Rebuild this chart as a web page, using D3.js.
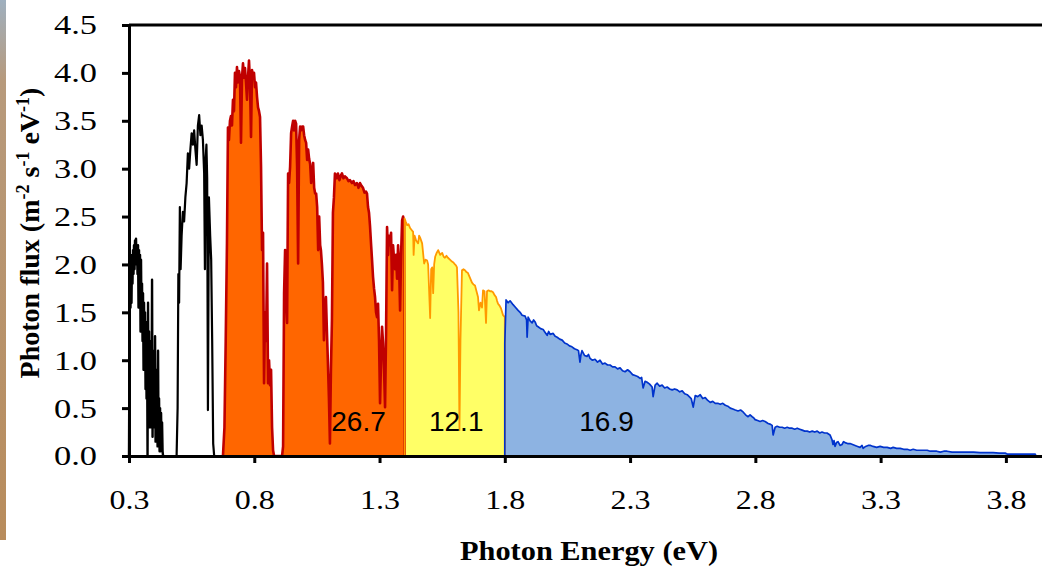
<!DOCTYPE html>
<html lang="en">
<head>
<meta charset="UTF-8">
<title>photon flux</title>
<script src="https://cdn.jsdelivr.net/npm/d3@7"></script>
<style>
  body{margin:0;background:#fff;overflow:hidden;}
  .axis .tick text{font-family:"Liberation Serif","Times New Roman",serif;font-size:28px;fill:#000;}
  .axis path,.axis line{stroke:#000;stroke-width:3px;}
  .ttl{font-family:"Liberation Serif","Times New Roman",serif;font-weight:bold;font-size:28px;fill:#000;}
  .band{font-family:"Liberation Sans",Arial,sans-serif;font-size:28px;fill:#000;}
</style>
</head>
<body>
<div id="chart"></div>
<script>
// values: [photon energy eV, photon flux]
var blackBand1 = [[0.300,0],[0.302,1.2],[0.304,1.95],[0.306,1.55],[0.308,2.0],[0.310,1.6],[0.312,2.1],[0.314,1.8],[0.316,2.15],[0.318,1.9],[0.320,2.2],[0.322,1.95],[0.324,2.25],[0.326,2.0],[0.328,2.27],[0.330,2.05],[0.332,2.2],[0.334,1.9],[0.336,2.2],[0.338,1.55],[0.340,2.15],[0.342,1.7],[0.344,2.1],[0.346,1.3],[0.348,2.05],[0.350,1.4],[0.352,1.8],[0.354,1.2],[0.356,1.7],[0.358,0.9],[0.360,1.6],[0.362,1.0],[0.364,1.5],[0.366,0.7],[0.368,1.4],[0.370,0.6],[0.372,1.3],[0.374,0.0],[0.376,1.6],[0.378,0.4],[0.380,1.3],[0.382,0.3],[0.384,1.2],[0.386,0.3],[0.388,1.0],[0.390,0.5],[0.392,1.84],[0.394,0.2],[0.396,1.0],[0.398,0.4],[0.400,1.1],[0.402,0.3],[0.404,1.25],[0.406,0.15],[0.408,0.9],[0.410,0.2],[0.412,0.8],[0.414,0.1],[0.416,1.1],[0.418,0.1],[0.420,0.6],[0.422,0.05],[0.424,0.5],[0.426,0.05],[0.428,0.45],[0.430,0.1],[0.432,0.35],[0.434,0.05],[0.436,0]];

var blackBand2 = [[0.490,0],[0.494,0.5],[0.497,1.9],[0.500,1.6],[0.503,2.6],[0.506,1.95],[0.510,2.3],[0.515,2.55],[0.520,2.45],[0.525,2.7],[0.530,2.85],[0.535,3.16],[0.540,3.0],[0.545,3.2],[0.550,3.37],[0.555,3.25],[0.560,3.4],[0.565,3.2],[0.570,3.04],[0.575,3.45],[0.580,3.56],[0.585,3.35],[0.590,3.45],[0.595,3.3],[0.600,2.95],[0.603,1.95],[0.606,3.1],[0.609,3.25],[0.612,2.9],[0.615,0.48],[0.619,2.7],[0.624,2.3],[0.628,2.05],[0.632,1.2],[0.636,0.13],[0.640,0]];

var orangeBand = [[0.675,0],[0.681,0.3],[0.686,1.2],[0.691,2.22],[0.695,3.43],[0.699,3.3],[0.703,3.5],[0.707,3.55],[0.711,3.45],[0.715,3.72],[0.719,3.6],[0.723,4.0],[0.727,3.85],[0.731,4.06],[0.735,3.9],[0.739,4.02],[0.743,3.96],[0.747,3.27],[0.751,3.95],[0.755,4.1],[0.759,3.95],[0.763,4.05],[0.767,3.9],[0.771,3.72],[0.775,3.95],[0.779,4.13],[0.783,3.9],[0.787,3.33],[0.791,4.03],[0.795,3.95],[0.799,4.0],[0.803,3.85],[0.807,3.9],[0.811,3.75],[0.815,3.64],[0.819,3.6],[0.823,3.54],[0.827,3.02],[0.831,2.15],[0.835,2.33],[0.839,0.76],[0.843,1.5],[0.847,1.2],[0.851,2.01],[0.855,0.76],[0.859,1.0],[0.863,0.74],[0.867,0.9],[0.871,0.3],[0.875,0.06],[0.879,0],
  [0.911,0],[0.915,0.1],[0.919,1.70],[0.923,2.15],[0.927,1.6],[0.931,1.39],[0.935,2.95],[0.939,2.85],[0.943,3.02],[0.947,3.37],[0.951,3.44],[0.955,3.5],[0.959,3.4],[0.963,3.5],[0.967,3.47],[0.971,3.02],[0.975,2.01],[0.979,3.3],[0.983,3.44],[0.987,3.4],[0.991,3.44],[0.995,3.44],[0.999,3.35],[1.003,3.3],[1.007,3.27],[1.011,3.09],[1.015,3.2],[1.019,3.1],[1.023,3.05],[1.027,2.85],[1.031,2.95],[1.035,3.06],[1.039,2.8],[1.043,2.74],[1.047,2.74],[1.051,2.6],[1.055,2.15],[1.059,2.5],[1.063,2.2],[1.066,2.15],[1.070,2.0],[1.074,1.81],[1.078,1.21],[1.082,1.5],[1.086,1.66],[1.090,1.3],[1.094,0.97],[1.098,0.6],[1.102,0.13],[1.106,0.9],[1.110,1.42],
  [1.114,2.54],[1.118,2.7],[1.122,2.95],[1.126,2.93],[1.130,2.9],[1.134,2.95],[1.140,2.88],[1.146,2.93],[1.150,2.95],[1.156,2.9],[1.162,2.92],[1.170,2.9],[1.176,2.87],[1.182,2.88],[1.190,2.85],[1.196,2.87],[1.202,2.83],[1.210,2.85],[1.216,2.8],[1.222,2.85],[1.228,2.82],[1.234,2.8],[1.240,2.75],[1.246,2.76],[1.250,2.74],[1.254,2.6],[1.258,2.54],[1.262,2.4],[1.266,2.22],[1.270,2.05],[1.274,1.87],[1.278,1.75],[1.282,1.66],[1.286,1.5],[1.290,1.45],[1.294,1.59],[1.298,1.2],[1.302,0.55],[1.306,1.0],[1.310,1.35],[1.314,1.18],[1.318,0.9],[1.322,0.51],[1.326,1.28],
  [1.330,2.39],[1.334,2.1],[1.338,2.3],[1.342,2.2],[1.346,2.33],[1.350,1.73],[1.354,2.2],[1.358,2.05],[1.362,1.95],[1.366,2.1],[1.370,1.85],[1.374,2.2],[1.378,2.0],[1.382,1.52],[1.386,2.1],[1.390,2.46],[1.394,2.5],[1.398,2.45],[1.400,0]];

var yellowBand = [[1.400,0],[1.400,2.48],[1.404,2.45],[1.410,2.41],[1.416,2.42],[1.422,2.38],[1.428,2.36],[1.434,2.34],[1.436,2.10],[1.440,2.3],[1.446,2.25],[1.454,2.22],[1.458,2.3],[1.462,2.28],[1.470,2.22],[1.478,2.01],[1.484,2.05],[1.490,2.04],[1.494,2.0],[1.502,1.44],[1.506,1.95],[1.510,1.97],[1.514,1.70],[1.518,2.0],[1.522,2.08],[1.528,2.12],[1.534,2.15],[1.542,2.1],[1.550,2.12],[1.556,2.08],[1.561,2.07],[1.567,2.09],[1.573,2.07],[1.581,2.05],[1.589,2.03],[1.595,2.02],[1.601,2.0],[1.605,1.99],[1.609,1.97],[1.615,1.5],[1.619,0.27],[1.623,1.2],[1.629,1.94],[1.635,1.95],[1.641,1.94],[1.647,1.92],[1.653,1.91],[1.661,1.86],[1.669,1.81],[1.675,1.79],[1.681,1.78],[1.687,1.72],[1.693,1.66],[1.697,1.52],[1.703,1.6],[1.709,1.55],[1.713,1.73],[1.719,1.72],[1.725,1.39],[1.729,1.72],[1.735,1.73],[1.741,1.72],[1.747,1.72],[1.753,1.71],[1.759,1.68],[1.765,1.66],[1.769,1.62],[1.773,1.59],[1.779,1.57],[1.785,1.54],[1.793,1.47],[1.800,1.45],[1.800,0]];

var blueBand = [[1.800,0],[1.800,1.18],[1.805,1.63],[1.813,1.6],[1.821,1.62],[1.833,1.58],[1.843,1.55],[1.853,1.52],[1.861,1.5],[1.869,1.47],[1.881,1.46],[1.887,1.42],[1.889,1.24],[1.893,1.45],[1.901,1.41],[1.909,1.39],[1.915,1.42],[1.921,1.4],[1.927,1.36],[1.933,1.35],[1.943,1.33],[1.953,1.32],[1.961,1.29],[1.969,1.26],[1.975,1.3],[1.981,1.27],[1.993,1.28],[2.001,1.25],[2.009,1.24],[2.019,1.22],[2.029,1.21],[2.039,1.18],[2.048,1.17],[2.058,1.15],[2.068,1.14],[2.078,1.12],[2.088,1.11],[2.094,1.1],[2.100,0.98],[2.104,1.06],[2.108,1.1],[2.118,1.05],[2.128,1.04],[2.134,1.06],[2.140,1.02],[2.150,1.0],[2.160,1.01],[2.170,0.98],[2.180,1.0],[2.190,0.96],[2.200,0.97],[2.210,0.95],[2.220,0.95],[2.230,0.93],[2.240,0.93],[2.250,0.91],[2.260,0.92],[2.270,0.89],[2.280,0.88],[2.290,0.9],[2.300,0.88],[2.310,0.85],[2.320,0.84],[2.330,0.83],[2.340,0.81],[2.346,0.82],[2.352,0.71],[2.360,0.78],[2.368,0.77],[2.378,0.75],[2.388,0.72],[2.392,0.62],[2.400,0.74],[2.408,0.76],[2.418,0.73],[2.428,0.74],[2.438,0.71],[2.448,0.72],[2.458,0.7],[2.468,0.69],[2.478,0.7],[2.488,0.69],[2.498,0.67],[2.508,0.68],[2.518,0.65],[2.528,0.64],[2.536,0.62],[2.544,0.6],[2.552,0.51],[2.560,0.63],[2.570,0.62],[2.580,0.64],[2.590,0.6],[2.600,0.61],[2.610,0.58],[2.620,0.56],[2.630,0.57],[2.640,0.55],[2.650,0.55],[2.660,0.54],[2.670,0.55],[2.680,0.53],[2.690,0.52],[2.700,0.5],[2.710,0.49],[2.720,0.48],[2.731,0.47],[2.741,0.48],[2.751,0.46],[2.761,0.43],[2.771,0.41],[2.779,0.43],[2.787,0.41],[2.793,0.4],[2.799,0.38],[2.809,0.37],[2.819,0.36],[2.829,0.37],[2.839,0.36],[2.851,0.34],[2.861,0.33],[2.867,0.32],[2.871,0.22],[2.879,0.3],[2.887,0.31],[2.897,0.3],[2.907,0.3],[2.917,0.29],[2.927,0.3],[2.937,0.29],[2.947,0.29],[2.957,0.28],[2.967,0.29],[2.977,0.28],[2.987,0.27],[2.997,0.26],[3.007,0.26],[3.017,0.25],[3.027,0.26],[3.037,0.25],[3.047,0.26],[3.057,0.24],[3.066,0.25],[3.076,0.24],[3.086,0.24],[3.098,0.22],[3.106,0.17],[3.110,0.12],[3.114,0.16],[3.118,0.10],[3.124,0.14],[3.130,0.15],[3.138,0.11],[3.146,0.12],[3.152,0.15],[3.158,0.14],[3.168,0.13],[3.178,0.13],[3.188,0.12],[3.198,0.11],[3.208,0.1],[3.218,0.09],[3.226,0.11],[3.230,0.08],[3.240,0.1],[3.250,0.11],[3.260,0.11],[3.270,0.1],[3.284,0.09],[3.298,0.1],[3.312,0.09],[3.326,0.09],[3.340,0.08],[3.350,0.09],[3.364,0.08],[3.378,0.08],[3.392,0.07],[3.406,0.07],[3.418,0.06],[3.430,0.07],[3.444,0.06],[3.458,0.06],[3.472,0.06],[3.486,0.06],[3.498,0.05],[3.510,0.05],[3.524,0.05],[3.538,0.04],[3.552,0.05],[3.565,0.05],[3.585,0.04],[3.605,0.04],[3.625,0.04],[3.645,0.04],[3.671,0.04],[3.697,0.035],[3.723,0.035],[3.749,0.035],[3.773,0.03],[3.797,0.03],[3.805,0.02],[3.850,0.02],[3.909,0.02],[3.917,0.02],[3.920,0]];

var zeroLine = [[0.3,0],[3.95,0]];

var xTicks = [0.3, 0.8, 1.3, 1.8, 2.3, 2.8, 3.3, 3.8];
var yTicks = [0, 0.5, 1.0, 1.5, 2.0, 2.5, 3.0, 3.5, 4.0, 4.5];

var bandLabels = ["26.7", "12.1", "16.9"];
var bandLabelAt = [1.216, 1.606, 2.206]; // energy where the number sits

var W = 1042, H = 566;

var svg = d3.select("#chart").append("svg")
    .attr("width", W)
    .attr("height", H);

// bit of slide background at the left edge
var grad = svg.append("defs").append("linearGradient")
    .attr("id", "edge").attr("x1", 0).attr("y1", 0).attr("x2", 0).attr("y2", 1);
grad.append("stop").attr("offset", "0").attr("stop-color", "#9fb0bf");
grad.append("stop").attr("offset", "0.15").attr("stop-color", "#b79a7c");
grad.append("stop").attr("offset", "1").attr("stop-color", "#b88c5c");
svg.append("rect").attr("x", 0).attr("y", 0).attr("width", 6).attr("height", 540)
    .attr("fill", "url(#edge)");

var x = d3.scaleLinear().domain([0.3, 4.0]).range([129, 1056]);
var y = d3.scaleLinear().domain([0, 4.5]).range([456, 25]);

var area = d3.area().x(d => x(d[0])).y0(y(0)).y1(d => y(d[1]));
var line = d3.line().x(d => x(d[0])).y(d => y(d[1]));

// filled bands
svg.append("path").datum(orangeBand).attr("d", area).attr("fill", "#ff6600");
svg.append("path").datum(yellowBand).attr("d", area).attr("fill", "#ffff66");
svg.append("path").datum(blueBand).attr("d", area).attr("fill", "#8db3e2");

// outlines
var outlines = [
    {data: blackBand1, color: "#000", w: 2.4},
    {data: blackBand2, color: "#000", w: 2.2},
    {data: orangeBand, color: "#c00000", w: 2.6},
    {data: yellowBand, color: "#ff9900", w: 1.8},
    {data: blueBand, color: "#0033cc", w: 1.7},
    {data: zeroLine, color: "#c00000", w: 1.5}
];
svg.selectAll(".spec").data(outlines).enter().append("path")
    .attr("class", "spec")
    .attr("d", d => line(d.data))
    .attr("fill", "none")
    .attr("stroke", d => d.color)
    .attr("stroke-width", d => d.w)
    .attr("stroke-linejoin", "round");

// numbers inside the bands
svg.selectAll(".band").data(bandLabels).enter().append("text")
    .attr("class", "band")
    .attr("x", (d, i) => x(bandLabelAt[i]))
    .attr("y", 431)
    .attr("text-anchor", "middle")
    .text(d => d);

// frame top
svg.append("line").attr("x1", 129).attr("x2", 1056).attr("y1", 25).attr("y2", 25)
    .attr("stroke", "#000").attr("stroke-width", 3);

var fmt = d3.format(".1f");
var xAxis = svg.append("g").attr("class", "axis")
    .attr("transform", "translate(0,456)")
    .call(d3.axisBottom(x).tickValues(xTicks).tickFormat(fmt).tickSize(7).tickSizeOuter(0).tickPadding(26));

var yAxis = svg.append("g").attr("class", "axis")
    .attr("transform", "translate(129,0)")
    .call(d3.axisLeft(y).tickValues(yTicks).tickFormat(fmt).tickSize(7).tickSizeOuter(0).tickPadding(25));

// labels in the original are a little wider than Times
xAxis.selectAll(".tick text").attr("textLength", 40).attr("lengthAdjust", "spacingAndGlyphs");
yAxis.selectAll(".tick text").attr("textLength", 43).attr("lengthAdjust", "spacingAndGlyphs");

// axis titles
svg.append("text").attr("class", "ttl")
    .attr("x", 589).attr("y", 560)
    .attr("text-anchor", "middle")
    .attr("textLength", 258).attr("lengthAdjust", "spacingAndGlyphs")
    .text("Photon Energy (eV)");

var yl = svg.append("text").attr("class", "ttl")
    .attr("transform", "translate(39,233) rotate(-90)")
    .attr("text-anchor", "middle");
yl.append("tspan").text("Photon flux (m");
yl.append("tspan").attr("dy", -10).attr("font-size", 18).text("-2");
yl.append("tspan").attr("dy", 10).text(" s");
yl.append("tspan").attr("dy", -10).attr("font-size", 18).text("-1");
yl.append("tspan").attr("dy", 10).text(" eV");
yl.append("tspan").attr("dy", -10).attr("font-size", 18).text("-1");
yl.append("tspan").attr("dy", 10).text(")");
</script>
</body>
</html>
